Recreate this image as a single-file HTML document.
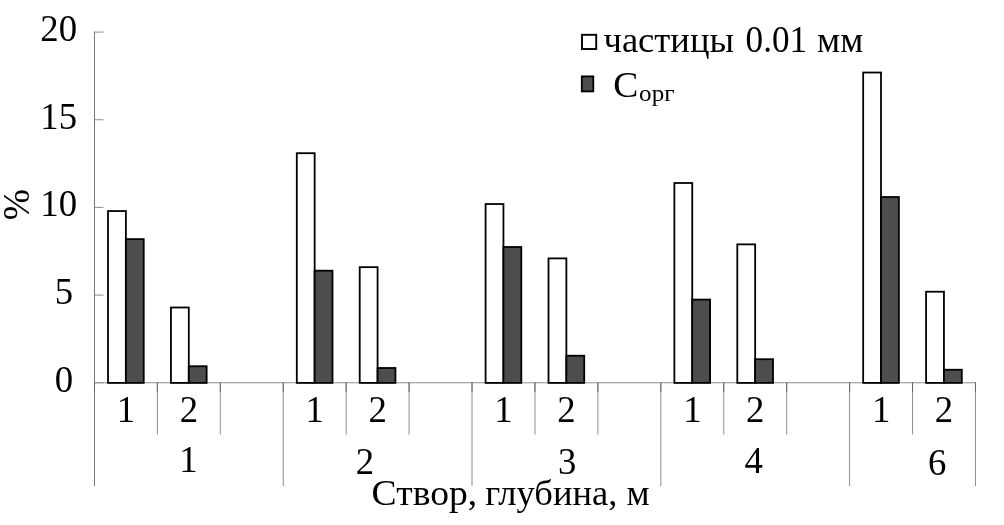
<!DOCTYPE html>
<html lang="ru"><head><meta charset="utf-8"><title>chart</title><style>html,body{margin:0;padding:0;background:#fff}body{width:1004px;height:525px;overflow:hidden}</style></head><body>
<svg width="1004" height="525" viewBox="0 0 1004 525" style="display:block">
<rect width="1004" height="525" fill="#fff"/>
<g stroke="#8e8e8e" stroke-width="1" fill="none">
<line x1="157.38" y1="382.77" x2="157.38" y2="434.5"/>
<line x1="220.31" y1="382.77" x2="220.31" y2="434.5"/>
<line x1="283.24" y1="382.77" x2="283.24" y2="486"/>
<line x1="346.17" y1="382.77" x2="346.17" y2="434.5"/>
<line x1="409.10" y1="382.77" x2="409.10" y2="434.5"/>
<line x1="472.03" y1="382.77" x2="472.03" y2="486"/>
<line x1="534.96" y1="382.77" x2="534.96" y2="434.5"/>
<line x1="597.89" y1="382.77" x2="597.89" y2="434.5"/>
<line x1="660.82" y1="382.77" x2="660.82" y2="486"/>
<line x1="723.75" y1="382.77" x2="723.75" y2="434.5"/>
<line x1="786.68" y1="382.77" x2="786.68" y2="434.5"/>
<line x1="849.61" y1="382.77" x2="849.61" y2="486"/>
<line x1="912.54" y1="382.77" x2="912.54" y2="434.5"/>
<line x1="975.47" y1="382.77" x2="975.47" y2="486"/>
<line x1="94.5" y1="382.77" x2="975.92" y2="382.77"/>
<line x1="94.5" y1="382.77" x2="103.5" y2="382.77"/>
<line x1="94.5" y1="295.09" x2="103.5" y2="295.09"/>
<line x1="94.5" y1="207.42" x2="103.5" y2="207.42"/>
<line x1="94.5" y1="119.75" x2="103.5" y2="119.75"/>
<line x1="94.5" y1="32.07" x2="103.5" y2="32.07"/>
</g>
<line x1="94.5" y1="31.60" x2="94.5" y2="486" stroke="#787878" stroke-width="1"/>
<g stroke="#666666" stroke-width="1" fill="none">
<line x1="94.50" y1="382.27" x2="94.50" y2="391.77"/>
<line x1="157.38" y1="382.27" x2="157.38" y2="391.77"/>
<line x1="220.31" y1="382.27" x2="220.31" y2="391.77"/>
<line x1="283.24" y1="382.27" x2="283.24" y2="391.77"/>
<line x1="346.17" y1="382.27" x2="346.17" y2="391.77"/>
<line x1="409.10" y1="382.27" x2="409.10" y2="391.77"/>
<line x1="472.03" y1="382.27" x2="472.03" y2="391.77"/>
<line x1="534.96" y1="382.27" x2="534.96" y2="391.77"/>
<line x1="597.89" y1="382.27" x2="597.89" y2="391.77"/>
<line x1="660.82" y1="382.27" x2="660.82" y2="391.77"/>
<line x1="723.75" y1="382.27" x2="723.75" y2="391.77"/>
<line x1="786.68" y1="382.27" x2="786.68" y2="391.77"/>
<line x1="849.61" y1="382.27" x2="849.61" y2="391.77"/>
<line x1="912.54" y1="382.27" x2="912.54" y2="391.77"/>
<line x1="975.47" y1="382.27" x2="975.47" y2="391.77"/>
</g>
<g stroke="#000" stroke-width="1.8">
<rect x="108.02" y="211.06" width="17.85" height="171.84" fill="#fff"/>
<rect x="125.87" y="239.11" width="17.85" height="143.79" fill="#4d4d4d"/>
<rect x="170.94" y="307.50" width="17.85" height="75.40" fill="#fff"/>
<rect x="188.79" y="366.24" width="17.85" height="16.66" fill="#4d4d4d"/>
<rect x="296.80" y="153.19" width="17.85" height="229.71" fill="#fff"/>
<rect x="314.65" y="270.68" width="17.85" height="112.22" fill="#4d4d4d"/>
<rect x="359.73" y="267.17" width="17.85" height="115.73" fill="#fff"/>
<rect x="377.58" y="368.00" width="17.85" height="14.90" fill="#4d4d4d"/>
<rect x="485.59" y="204.04" width="17.85" height="178.86" fill="#fff"/>
<rect x="503.44" y="247.00" width="17.85" height="135.90" fill="#4d4d4d"/>
<rect x="548.52" y="258.40" width="17.85" height="124.50" fill="#fff"/>
<rect x="566.38" y="355.72" width="17.85" height="27.18" fill="#4d4d4d"/>
<rect x="674.38" y="183.00" width="17.85" height="199.90" fill="#fff"/>
<rect x="692.24" y="299.61" width="17.85" height="83.29" fill="#4d4d4d"/>
<rect x="737.31" y="244.37" width="17.85" height="138.53" fill="#fff"/>
<rect x="755.16" y="359.23" width="17.85" height="23.67" fill="#4d4d4d"/>
<rect x="863.17" y="72.53" width="17.85" height="310.37" fill="#fff"/>
<rect x="881.02" y="197.03" width="17.85" height="185.87" fill="#4d4d4d"/>
<rect x="926.10" y="291.72" width="17.85" height="91.18" fill="#fff"/>
<rect x="943.95" y="369.75" width="17.85" height="13.15" fill="#4d4d4d"/>
</g>
<g font-family="'Liberation Serif', 'Times New Roman', serif" font-size="35" fill="#000">
<text transform="translate(73.20,391.70) scale(0.98,1)" text-anchor="end" font-size="37.5">0</text>
<text transform="translate(73.20,304.02) scale(0.98,1)" text-anchor="end" font-size="37.5">5</text>
<text transform="translate(77.00,216.35) scale(0.98,1)" text-anchor="end" font-size="37.5">10</text>
<text transform="translate(77.00,128.68) scale(0.98,1)" text-anchor="end" font-size="37.5">15</text>
<text transform="translate(77.00,41.00) scale(0.98,1)" text-anchor="end" font-size="37.5">20</text>
<text transform="translate(125.97,422.00) scale(0.98,1)" text-anchor="middle" font-size="37.5">1</text>
<text transform="translate(188.89,422.00) scale(0.98,1)" text-anchor="middle" font-size="37.5">2</text>
<text transform="translate(314.75,422.00) scale(0.98,1)" text-anchor="middle" font-size="37.5">1</text>
<text transform="translate(377.69,422.00) scale(0.98,1)" text-anchor="middle" font-size="37.5">2</text>
<text transform="translate(503.55,422.00) scale(0.98,1)" text-anchor="middle" font-size="37.5">1</text>
<text transform="translate(566.48,422.00) scale(0.98,1)" text-anchor="middle" font-size="37.5">2</text>
<text transform="translate(692.34,422.00) scale(0.98,1)" text-anchor="middle" font-size="37.5">1</text>
<text transform="translate(755.26,422.00) scale(0.98,1)" text-anchor="middle" font-size="37.5">2</text>
<text transform="translate(881.12,422.00) scale(0.98,1)" text-anchor="middle" font-size="37.5">1</text>
<text transform="translate(944.05,422.00) scale(0.98,1)" text-anchor="middle" font-size="37.5">2</text>
<text transform="translate(188.40,472.00) scale(0.98,1)" text-anchor="middle" font-size="37.5">1</text>
<text transform="translate(365.00,473.60) scale(0.98,1)" text-anchor="middle" font-size="37.5">2</text>
<text transform="translate(567.10,474.40) scale(0.98,1)" text-anchor="middle" font-size="37.5">3</text>
<text transform="translate(753.70,472.80) scale(0.98,1)" text-anchor="middle" font-size="37.5">4</text>
<text transform="translate(937.30,474.50) scale(0.98,1)" text-anchor="middle" font-size="37.5">6</text>
<text transform="translate(371.60,505.30) scale(1.075,1)">Створ,</text>
<text transform="translate(485.20,505.30) scale(1.044,1)">глубина, м</text>
<text transform="translate(28.5,204.7) rotate(-90)" text-anchor="middle" font-size="37.5">%</text>
<text transform="translate(603.50,52.10) scale(1.045,1)">частицы</text>
<text transform="translate(745.60,52.10) scale(0.95,1)" font-size="37">0.01</text>
<text transform="translate(817.00,52.10) scale(1.045,1)">мм</text>
<text transform="translate(613.20,97.10) scale(1.045,1)" font-size="36">С<tspan font-size="24" dy="3.5" dx="0.8">орг</tspan></text>
</g>
<rect x="582" y="34.8" width="14.2" height="14.2" fill="#fff" stroke="#000" stroke-width="1.9"/>
<rect x="581.8" y="76.4" width="11.5" height="15" fill="#4d4d4d" stroke="#000" stroke-width="1.8"/>
</svg>
</body></html>
